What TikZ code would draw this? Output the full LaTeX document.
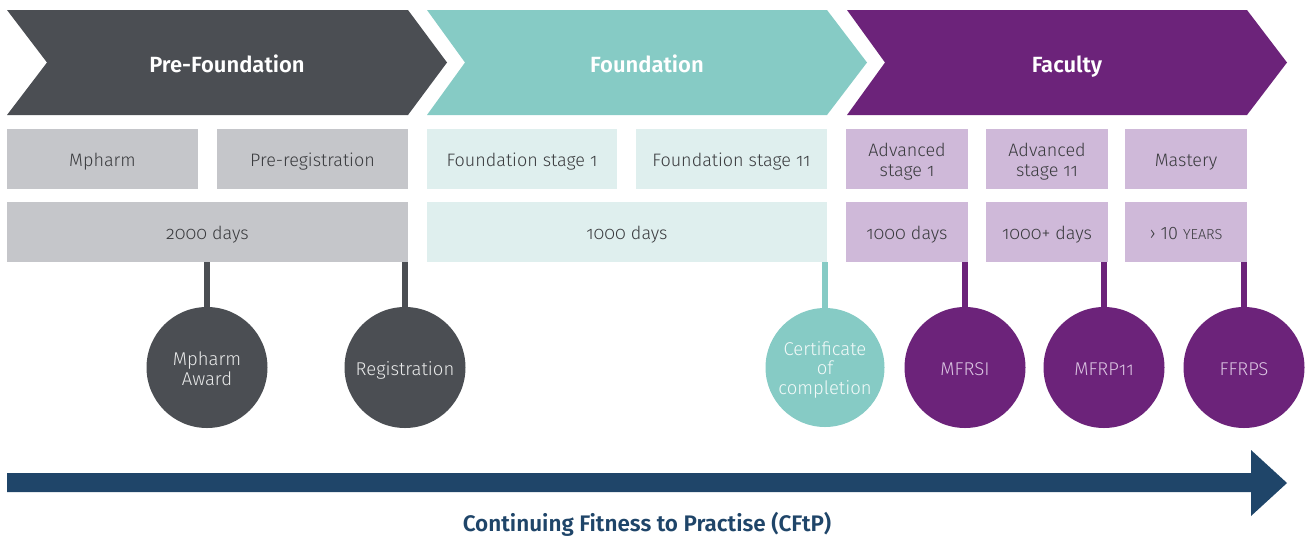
\documentclass[tikz,border=0pt]{standalone}
\usepackage{fontspec}
\setmainfont{Fira Sans}[UprightFont={* Light}, BoldFont={* SemiBold}, Numbers=OldStyle]
\newfontfamily\liningfont{Fira Sans}[UprightFont={* Light}, Numbers=Lining]
\definecolor{cdark}{HTML}{4B4E53}
\definecolor{cteal}{HTML}{86CBC5}
\definecolor{cpurple}{HTML}{6C237A}
\definecolor{lgray}{HTML}{C5C6CA}
\definecolor{lteal}{HTML}{DFEFEE}
\definecolor{lpurple}{HTML}{CFB9D9}
\definecolor{cnavy}{HTML}{1F4569}
\definecolor{btext}{HTML}{3A3B3E}
\definecolor{ptext}{HTML}{DCC6E3}
\tikzset{
  head/.style={text=white, inner sep=0pt, text height=16pt, text depth=5pt, font=\fontsize{22}{26}\selectfont\bfseries},
  box/.style={rectangle, inner sep=0pt, outer sep=0pt, minimum height=60pt},
  btx/.style={text=btext, inner sep=0pt, align=center, font=\fontsize{18}{20}\selectfont},
  one/.style={text height=13pt, text depth=4pt, yshift=-3pt},
  two/.style={yshift=-3pt},
  disc/.style={circle, inner sep=0pt, outer sep=0pt, minimum size=121pt},
  ctx/.style={inner sep=0pt, align=center, font=\fontsize{18.5}{19.5}\selectfont},
  cone/.style={text height=13.5pt, text depth=4.5pt, yshift=-3pt},
  stub/.style={line width=6pt},
}
\begin{document}
\begin{tikzpicture}[x=1pt,y=-1pt]
\useasboundingbox (0,0) rectangle (1307,539);
% chevrons
\fill[cdark] (7,10) -- (408,10) -- (447,62.5) -- (408,115) -- (7,115) -- (47,62.5) -- cycle;
\fill[cteal] (427,10) -- (827,10) -- (867,62.5) -- (827,115) -- (427,115) -- (465,62.5) -- cycle;
\fill[cpurple] (847,10) -- (1247,10) -- (1287,62.5) -- (1247,115) -- (847,115) -- (885,62.5) -- cycle;
\node[head] (h1) at (227,66.5) {Pre-Foundation};
\node[head] (h2) at (647,66.5) {Foundation};
\node[head] (h3) at (1067,66.5) {Faculty};
% row 1 boxes
\node[box, fill=lgray, minimum width=191pt] (mph) at (102.5,159) {};
\node[box, fill=lgray, minimum width=191pt] (prereg) at (312.5,159) {};
\node[box, fill=lteal, minimum width=190pt] (fs1) at (522,159) {};
\node[box, fill=lteal, minimum width=191pt] (fs2) at (731.5,159) {};
\node[box, fill=lpurple, minimum width=122pt] (as1) at (907,159) {};
\node[box, fill=lpurple, minimum width=122pt] (as2) at (1047,159) {};
\node[box, fill=lpurple, minimum width=122pt] (mast) at (1186,159) {};
\node[btx, one] (mph-t) at (mph) {Mpharm};
\node[btx, one] (prereg-t) at (prereg) {Pre-registration};
\node[btx, one] (fs1-t) at (fs1) {Foundation stage 1};
\node[btx, one] (fs2-t) at (fs2) {Foundation stage 11};
\node[btx, two] (as1-t) at (as1) {Advanced\\stage 1};
\node[btx, two] (as2-t) at (as2) {Advanced\\stage 11};
\node[btx, one] (mast-t) at (mast) {Mastery};
% row 2 boxes
\node[box, fill=lgray, minimum width=401pt] (d1) at (207.5,232) {};
\node[box, fill=lteal, minimum width=400pt] (d2) at (627,232) {};
\node[box, fill=lpurple, minimum width=122pt] (d3) at (907,232) {};
\node[box, fill=lpurple, minimum width=122pt] (d4) at (1047,232) {};
\node[box, fill=lpurple, minimum width=122pt] (d5) at (1186,232) {};
\node[btx, one] (d1-t) at (d1) {2000 days};
\node[btx, one] (d2-t) at (d2) {1000 days};
\node[btx, one] (d3-t) at (d3) {1000 days};
\node[btx, one] (d4-t) at (d4) {1000+ days};
\node[btx, one] (d5-t) at (d5) {›\ {\liningfont 10} {\fontsize{14.5}{16}\selectfont YEARS}};
% circles
\node[disc, fill=cdark] (award) at (207,367.5) {};
\node[disc, fill=cdark] (reg) at (405,367.5) {};
\node[disc, fill=cteal, minimum size=119pt] (cert) at (825,367.5) {};
\node[disc, fill=cpurple] (mfrsi) at (965,367.5) {};
\node[disc, fill=cpurple] (mfrp) at (1104,367.5) {};
\node[disc, fill=cpurple] (ffrps) at (1244,367.5) {};
\node[ctx, text=white!88!cdark, yshift=-1pt] (award-t) at (award) {Mpharm\\Award};
\node[ctx, cone, text=white!88!cdark] (reg-t) at (reg) {Registration};
\node[ctx, text=white!90!cteal, yshift=-2pt] (cert-t) at (cert) {Certificate\\of\\completion};
\node[ctx, cone, text=ptext] (mfrsi-t) at (mfrsi) {MFRSI};
\node[ctx, cone, text=ptext] (mfrp-t) at (mfrp) {MFRP11};
\node[ctx, cone, text=ptext] (ffrps-t) at (ffrps) {FFRPS};
% stubs
\draw[stub, cdark] (d1.south -| award.north) -- (award.north);
\draw[stub, cdark] (d1.south -| reg.north) -- (reg.north);
\draw[stub, cteal] (d2.south -| cert.north) -- (cert.north);
\draw[stub, cpurple] (d3.south -| mfrsi.north) -- (mfrsi.north);
\draw[stub, cpurple] (d4.south -| mfrp.north) -- (mfrp.north);
\draw[stub, cpurple] (d5.south -| ffrps.north) -- (ffrps.north);
% arrow
\fill[cnavy] (7,473) -- (1251,473) -- (1251,450) -- (1287,483) -- (1251,516) -- (1251,492) -- (7,492) -- cycle;
\node[text=cnavy, inner sep=0pt, text height=17pt, text depth=6pt, font=\fontsize{22.5}{26}\selectfont\bfseries] (cftp) at (647,526) {Continuing Fitness to Practise (CFtP)};
\end{tikzpicture}
\end{document}
